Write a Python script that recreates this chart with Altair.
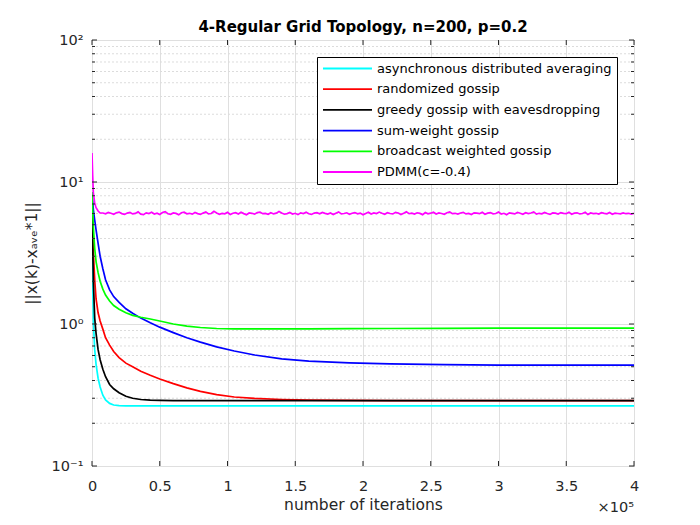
import altair as alt
import pandas as pd

# ---------------- data ----------------
chart_title = "4-Regular Grid Topology, n=200, p=0.2"
methods = [
    "asynchronous distributed averaging",
    "randomized gossip",
    "greedy gossip with eavesdropping",
    "sum-weight gossip",
    "broadcast weighted gossip",
    "PDMM(c=-0.4)",
]
colors = ["#00FFFF", "#FF0000", "#000000", "#0000FF", "#00FF00", "#FF00FF"]

iters = [0, 500, 1000, 2000, 3000, 4500, 6000, 8000, 10000, 13000, 16000,
         20000, 25000, 30000, 36000, 43000, 50000, 60000, 70000, 80000, 92000,
         105000, 120000, 140000, 160000, 190000, 220000, 260000, 300000,
         350000, 400000]

async_avg = [8.5, 2.0, 1.05, 0.66, 0.52, 0.415, 0.36, 0.315, 0.292, 0.276,
             0.269, 0.266, 0.265, 0.265, 0.265, 0.265, 0.265, 0.265, 0.265,
             0.265, 0.265, 0.265, 0.265, 0.265, 0.265, 0.265, 0.265, 0.265,
             0.265, 0.265, 0.265]
rand_gossip = [8.5, 4.8, 3.2, 2.05, 1.5, 1.2, 1.05, 0.92, 0.8, 0.71, 0.64,
               0.58, 0.53, 0.5, 0.465, 0.435, 0.41, 0.38, 0.355, 0.335, 0.318,
               0.306, 0.299, 0.294, 0.291, 0.29, 0.289, 0.289, 0.289, 0.289,
               0.289]
greedy = [8.5, 3.6, 2.0, 1.1, 0.86, 0.66, 0.56, 0.48, 0.425, 0.375, 0.35,
          0.328, 0.31, 0.3, 0.294, 0.291, 0.29, 0.289, 0.289, 0.289, 0.289,
          0.289, 0.289, 0.289, 0.289, 0.289, 0.289, 0.289, 0.289, 0.289,
          0.289]
sum_weight = [8.5, 7.3, 6.4, 5.4, 4.6, 3.7, 3.0, 2.45, 2.05, 1.74, 1.56,
              1.42, 1.28, 1.19, 1.1, 1.02, 0.95, 0.87, 0.8, 0.745, 0.69,
              0.645, 0.605, 0.568, 0.548, 0.533, 0.524, 0.517, 0.514, 0.514,
              0.514]
broadcast = [8.5, 6.2, 4.8, 3.4, 2.75, 2.3, 2.0, 1.76, 1.6, 1.45, 1.35,
             1.27, 1.2, 1.15, 1.115, 1.085, 1.05, 1.0, 0.965, 0.945, 0.93,
             0.925, 0.925, 0.925, 0.925, 0.928, 0.93, 0.932, 0.934, 0.935,
             0.935]

pdmm_head_iters = [0, 500, 1000, 2000, 3000, 4500, 6000]
pdmm_head = [16.0, 11.0, 8.4, 7.1, 6.6, 6.25, 6.05]
pdmm_tail_iters = list(range(8000, 400000, 2000)) + [400000]
pdmm_tail = [
    6.05, 5.97, 6.11, 6.02, 5.93, 6.08, 6.14, 5.99, 5.91, 6.04,
    6.10, 5.96, 6.01, 6.16, 5.94, 5.89, 6.06, 6.00, 6.12, 5.95,
    6.03, 5.90, 6.09, 6.18, 5.98, 5.92, 6.05, 6.01, 5.87, 6.07,
    6.13, 5.97, 6.02, 5.94, 6.10, 5.99, 5.91, 6.04, 6.15, 5.96,
    6.00, 6.22, 6.06, 5.93, 6.01, 5.97, 6.11, 5.90, 6.03, 6.08,
    5.95, 6.12, 5.99, 5.88, 6.05, 6.02, 5.94, 6.09, 6.14, 5.98,
    6.01, 5.92, 6.07, 5.96, 6.03, 6.19, 6.04, 5.93, 5.99, 6.10,
    5.95, 6.02, 5.89, 6.06, 6.00, 6.13, 5.97, 5.91, 6.04, 6.08,
    5.98, 6.11, 6.01, 5.94, 6.05, 5.90, 6.03, 6.16, 5.96, 6.00,
    6.07, 5.92, 6.02, 6.09, 5.97, 6.04, 5.88, 6.01, 6.12, 5.95,
    6.06, 5.99, 6.14, 6.03, 5.93, 6.08, 6.00, 5.96, 6.11, 6.05,
    5.91, 6.02, 6.17, 5.98, 6.04, 5.94, 6.07, 6.01, 5.89, 6.10,
    5.97, 6.03, 6.13, 5.95, 6.06, 6.00, 5.92, 6.08, 6.15, 5.99,
    6.02, 5.94, 6.05, 6.11, 5.96, 6.01, 5.90, 6.07, 6.03, 5.98,
    6.12, 5.93, 6.04, 6.09, 5.97, 6.00, 6.14, 5.95, 6.02, 5.88,
    6.06, 6.01, 5.96, 6.10, 6.03, 5.92, 6.08, 5.99, 6.05, 6.16,
    5.94, 6.02, 5.97, 6.11, 6.00, 5.91, 6.06, 6.04, 5.95, 6.09,
    6.01, 5.98, 6.13, 5.93, 6.03, 6.07, 5.96, 6.00, 6.12, 5.90,
    6.05, 5.99, 6.02, 5.94, 6.08, 6.01, 5.97, 6.10, 5.93, 6.04,
    6.00, 5.96, 6.06, 5.98, 6.02, 5.95, 6.01,
]

x_ticks = [0, 50000, 100000, 150000, 200000, 250000, 300000, 350000, 400000]
y_major = [0.1, 1, 10, 100]
y_minor = [0.2, 0.3, 0.4, 0.5, 0.6, 0.7, 0.8, 0.9,
           2, 3, 4, 5, 6, 7, 8, 9,
           20, 30, 40, 50, 60, 70, 80, 90]

# ---------------- tables ----------------
rows = []
for name, vals in zip(methods[:5], [async_avg, rand_gossip, greedy, sum_weight, broadcast]):
    for i, (x, v) in enumerate(zip(iters, vals)):
        rows.append({"iter": x, "err": v, "method": name, "k": i})
pdmm_x = pdmm_head_iters + pdmm_tail_iters
pdmm_v = pdmm_head + pdmm_tail[:len(pdmm_tail_iters)]
for i, (x, v) in enumerate(zip(pdmm_x, pdmm_v)):
    rows.append({"iter": x, "err": v, "method": methods[5], "k": i})
df = pd.DataFrame(rows)

W, H = 542, 426
FONT = "DejaVu Sans"
AX = "#262626"

xscale = alt.Scale(domain=[0, 400000], nice=False, zero=False)
yscale = alt.Scale(type="log", domain=[0.1, 100], nice=False)

ylabel = ("datum.value == 0.1 ? '10\u207b\u00b9' : datum.value == 1 ? '10\u2070' : "
          "datum.value == 10 ? '10\u00b9' : '10\u00b2'")

x_axis = alt.Axis(values=x_ticks, labelExpr="'' + datum.value / 100000",
                  title="number of iterations", grid=True,
                  gridColor="#dfdfdf", tickSize=0, domain=False,
                  labelFont=FONT, labelFontSize=14.5, labelColor=AX,
                  labelPadding=13, labelFlush=False, labelOverlap=False,
                  titleFont=FONT, titleFontSize=15.5, titleFontWeight="normal",
                  titleColor=AX, titlePadding=5)
y_axis = alt.Axis(values=y_major, labelExpr=ylabel,
                  title="||x(k)-x\u2090\u1d65\u2091*1||", grid=True,
                  gridColor="#dfdfdf", tickSize=0, domain=False,
                  labelFont=FONT, labelFontSize=14.5, labelColor=AX,
                  labelPadding=9, labelOverlap=False,
                  titleFont=FONT, titleFontSize=15.5, titleFontWeight="normal",
                  titleColor=AX, titlePadding=12)

X = alt.X("iter:Q", scale=xscale, axis=x_axis)
Y = alt.Y("err:Q", scale=yscale, axis=y_axis)

minor_grid = alt.Chart(pd.DataFrame({"err": y_minor})).mark_rule(
    color="#dcdcdc", strokeDash=[2, 2], strokeWidth=1
).encode(y=Y, x=alt.value(0), x2=alt.value(W))

lines = alt.Chart(df).mark_line(strokeWidth=1.7, clip=True).encode(
    x=X, y=Y,
    color=alt.Color("method:N", scale=alt.Scale(domain=methods, range=colors),
                    legend=alt.Legend(orient="none", legendX=225, legendY=17,
                                      title=None, symbolType="M-5,0H5",
                                      symbolSize=96, symbolStrokeWidth=1.8,
                                      symbolOffset=19, labelOffset=23,
                                      labelFont=FONT, labelFontSize=13,
                                      labelColor="#000000", rowPadding=6.7,
                                      padding=5, fillColor="white",
                                      strokeColor="black", cornerRadius=0,
                                      labelLimit=400)),
    order=alt.Order("k:Q"),
)

tick_major_y = alt.Chart(pd.DataFrame({"err": y_major})).mark_rule(color=AX, strokeWidth=1)
tick_minor_y = alt.Chart(pd.DataFrame({"err": y_minor})).mark_rule(color=AX, strokeWidth=1)
tick_x = alt.Chart(pd.DataFrame({"iter": x_ticks})).mark_rule(color=AX, strokeWidth=1)

ticks = [
    tick_major_y.encode(y=Y, x=alt.value(0), x2=alt.value(5)),
    tick_major_y.encode(y=Y, x=alt.value(W - 5), x2=alt.value(W)),
    tick_minor_y.encode(y=Y, x=alt.value(0), x2=alt.value(3)),
    tick_minor_y.encode(y=Y, x=alt.value(W - 3), x2=alt.value(W)),
    tick_x.encode(x=X, y=alt.value(H - 5), y2=alt.value(H)),
    tick_x.encode(x=X, y=alt.value(0), y2=alt.value(5)),
]

exp_label = alt.Chart(pd.DataFrame({"t": ["\u00d710\u2075"]})).mark_text(
    font=FONT, fontSize=14.5, color=AX, align="right", baseline="alphabetic"
).encode(text="t:N", x=alt.value(W), y=alt.value(H + 46))

title_text = alt.Chart(pd.DataFrame({"t": [chart_title]})).mark_text(
    font=FONT, fontSize=15, fontWeight="bold", color="#000000",
    align="center", baseline="alphabetic"
).encode(text="t:N", x=alt.value(W / 2), y=alt.value(-8))

chart = alt.layer(minor_grid, lines, *ticks, exp_label, title_text).properties(
    width=W, height=H,
    autosize=alt.AutoSizeParams(type="none"),
    padding={"left": 84, "top": 32, "right": 50, "bottom": 48},
).configure(
    background="white"
).configure_view(
    stroke=AX, strokeWidth=1
)

chart.save("out.html", embed_options={"renderer": "svg", "actions": False})
